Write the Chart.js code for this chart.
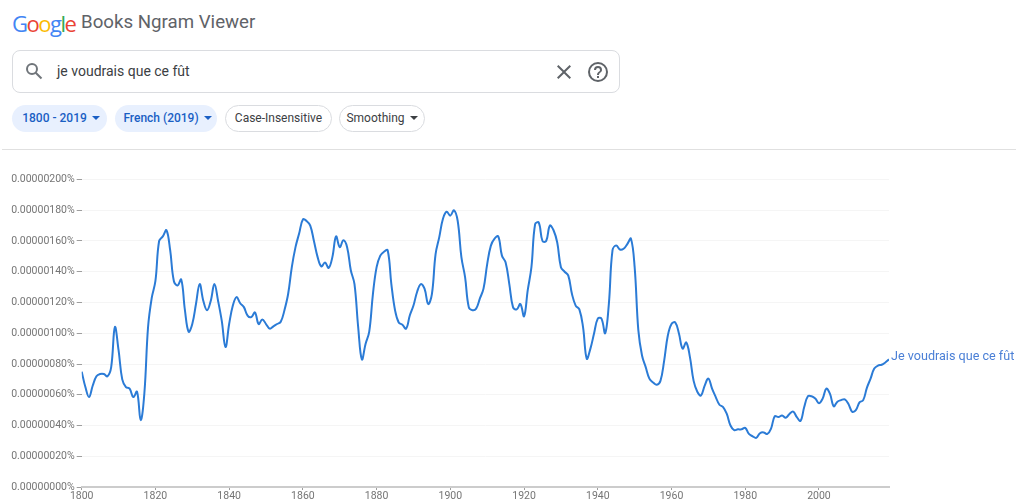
<!DOCTYPE html>
<html lang="fr">
<head>
<meta charset="utf-8">
<title>Google Books Ngram Viewer</title>
<script src="https://cdn.jsdelivr.net/npm/chart.js@4"></script>
<style>
    html, body { margin: 0; padding: 0; background: #fff; }
    body { width: 1016px; height: 501px; position: relative; overflow: hidden; font-family: Roboto, sans-serif; }
    .logo { position: absolute; left: 12px; top: 7px; font: 500 22px/32px "Open Sans", sans-serif; letter-spacing: -1.5px; }
    .title { position: absolute; left: 81px; top: 8px; font-size: 18.7px; line-height: 28px; color: #5f6368; }
    .search { position: absolute; left: 12px; top: 50px; width: 606px; height: 41px; border: 1px solid #dadce0; border-radius: 8px; }
    .search span { position: absolute; left: 44px; top: 12px; font-size: 14px; line-height: 17px; color: #3c4043; }
    .search svg { position: absolute; }
    .chip { position: absolute; top: 105px; height: 27px; box-sizing: border-box; border-radius: 14px; font-size: 12px; line-height: 27px; text-align: center; white-space: nowrap; }
    .chip.on { background: #e8f0fe; color: #1a5fc4; font-weight: 500; padding-left: 3px; }
    .chip.off { border: 1px solid #dadce0; color: #3c4043; line-height: 25px; }
    .caret { display: inline-block; margin-left: 5px; vertical-align: 2px; border: 4px solid transparent; border-bottom-width: 0; border-top-color: currentColor; }
    .divider { position: absolute; left: 2px; right: 0; top: 149px; height: 1px; background: #e0e0e0; }
    #chart { position: absolute; left: 0; top: 150px; }
</style>
</head>
<body>
<div class="logo"><span style="color:#4285f4">G</span><span style="color:#ea4335">o</span><span style="color:#fbbc05">o</span><span style="color:#4285f4">g</span><span style="color:#34a853">l</span><span style="color:#ea4335">e</span></div>
<div class="title">Books Ngram Viewer</div>
<div class="search">
    <svg style="left:12px;top:11px" width="18" height="18" viewBox="0 0 18 18" fill="none" stroke="#70757a" stroke-width="2"><circle cx="7" cy="7" r="5"/><path d="M10.700 10.700 16.500 16.500"/></svg>
    <span>je voudrais que ce fût</span>
    <svg style="left:539px;top:9px" width="24" height="24" viewBox="0 0 24 24" fill="#5f6368"><path d="M19 6.400 17.600 5 12 10.600 6.400 5 5 6.400 10.600 12 5 17.600 6.400 19 12 13.400 17.600 19 19 17.600 13.400 12z"/></svg>
    <svg style="left:573px;top:9px" width="24" height="24" viewBox="0 0 24 24" fill="#5f6368"><path d="M11 18h2v-2h-2v2zm1-16a10 10 0 1 0 0 20 10 10 0 0 0 0-20zm0 18a8 8 0 1 1 0-16 8 8 0 0 1 0 16zm0-14a4 4 0 0 0-4 4h2a2 2 0 1 1 4 0c0 2-3 1.750-3 5h2c0-2.250 3-2.500 3-5a4 4 0 0 0-4-4z"/></svg>
</div>
<div class="chip on" style="left:12px;width:95px">1800 - 2019<i class="caret"></i></div>
<div class="chip on" style="left:115px;width:102px">French (2019)<i class="caret"></i></div>
<div class="chip off" style="left:225px;width:107px">Case-Insensitive</div>
<div class="chip off" style="left:339px;width:86px">Smoothing<i class="caret"></i></div>
<div class="divider"></div>
<canvas id="chart" width="1016" height="351"></canvas>

<script>
// Valeurs, en unites de 0.00000001 %
const seriesName = 'Je voudrais que ce fût';
const firstYear = 1800;
const lastYear = 2019;
const frequency = [
    75, 65, 58.5, 66, 72, 73.5, 73.5, 72, 78, 104,
    89, 70, 65, 64, 58.5, 62, 43.5, 61, 104, 123,
    134, 160, 163, 167, 154, 134, 131, 135, 115, 101,
    106, 119, 132, 121, 115, 121, 132, 121, 108, 91,
    106, 118, 123.5, 119.5, 117, 111.5, 110.5, 113.5, 106, 109,
    106, 103, 104.5, 106, 107.5, 115, 125.5, 143, 156, 165,
    174, 173, 170, 160, 149.5, 143.5, 146, 142.5, 149.5, 163,
    156, 160.5, 156, 141, 132, 104, 83, 93, 101, 125.5,
    143, 150.5, 153, 154, 132, 115, 107, 105.5, 103, 111.5,
    118, 127, 132, 129, 119, 125.5, 151.5, 162.5, 174.5, 179,
    176.5, 180, 173, 149.5, 136.5, 117, 115, 116, 122.5, 129,
    145, 157, 161.5, 163, 150.5, 146, 132, 117, 115.5, 119,
    111, 128, 143, 171, 172, 160, 160, 170, 167, 159,
    143, 140, 137.5, 125.5, 118, 115.5, 104, 83.5, 90, 100,
    109.5, 109.5, 100, 119, 154, 157, 154.5, 155, 158, 161.5,
    143, 102, 85.5, 78, 70.5, 68, 66.5, 69, 82, 98.5,
    106, 107, 100, 90, 94, 84.5, 69, 62, 59.5, 66,
    70.5, 64, 58.5, 53.5, 52, 47.5, 40, 37, 37.5, 37.5,
    38.5, 34.5, 33, 32, 35, 35.5, 34.5, 38, 46, 45.5,
    46.5, 45, 47.5, 49, 45.5, 43, 52, 59, 59, 57.5,
    54.5, 57.5, 64, 60.5, 52.5, 55.5, 56.5, 57, 54, 49,
    50, 55, 56.5, 64.5, 70.5, 77, 79, 79.5, 81, 83
];
const yMax = 200;
const yStep = 20;
const xStep = 20;

const years = frequency.map((_, i) => firstYear + i);
const points = years.map((year, i) => ({ x: year, y: frequency[i] }));

// Libelle de la serie au bout de la courbe
const endLabel = {
    id: 'endLabel',
    afterDatasetsDraw(chart) {
        const ctx = chart.ctx;
        const x = chart.scales.x.getPixelForValue(lastYear);
        const y = chart.scales.y.getPixelForValue(frequency[frequency.length - 1]);
        ctx.save();
        ctx.font = '12.6px Roboto';
        ctx.fillStyle = '#4a7fd6';
        ctx.textBaseline = 'middle';
        ctx.fillText(seriesName, x + 2, y - 3);
        ctx.restore();
    }
};

new Chart(document.getElementById('chart'), {
    type: 'line',
    data: {
        datasets: [{
            label: seriesName,
            data: points,
            borderColor: '#2b7bd6',
            borderWidth: 2,
            pointRadius: 0,
            tension: 0.4,
            fill: false
        }]
    },
    options: {
        responsive: false,
        animation: false,
        devicePixelRatio: 1,
        layout: { padding: { top: 29.5, right: 127, left: 0, bottom: 0 } },
        plugins: { legend: { display: false }, tooltip: { enabled: false } },
        scales: {
            x: {
                type: 'linear',
                min: firstYear,
                max: lastYear,
                afterFit: (scale) => { scale.height = 14; },
                border: { color: '#cccccc', width: 2 },
                grid: { drawOnChartArea: false, drawTicks: true, tickLength: 3, color: '#9e9e9e' },
                ticks: {
                    stepSize: xStep,
                    padding: 0,
                    maxRotation: 0,
                    autoSkip: false,
                    includeBounds: false,
                    color: '#757575',
                    font: { family: 'Roboto', size: 10.5 },
                    callback: (v) => String(v)
                }
            },
            y: {
                min: 0,
                max: yMax,
                afterFit: (scale) => { scale.width = 81.7; },
                border: { display: false },
                grid: { color: '#f5f5f5', tickColor: '#9e9e9e', tickLength: 5 },
                ticks: {
                    stepSize: yStep,
                    padding: 2,
                    color: '#757575',
                    font: { family: 'Roboto', size: 10.5 },
                    callback: (v) => (v / 1e8).toFixed(8) + '%'
                }
            }
        }
    },
    plugins: [endLabel]
});
</script>
</body>
</html>
